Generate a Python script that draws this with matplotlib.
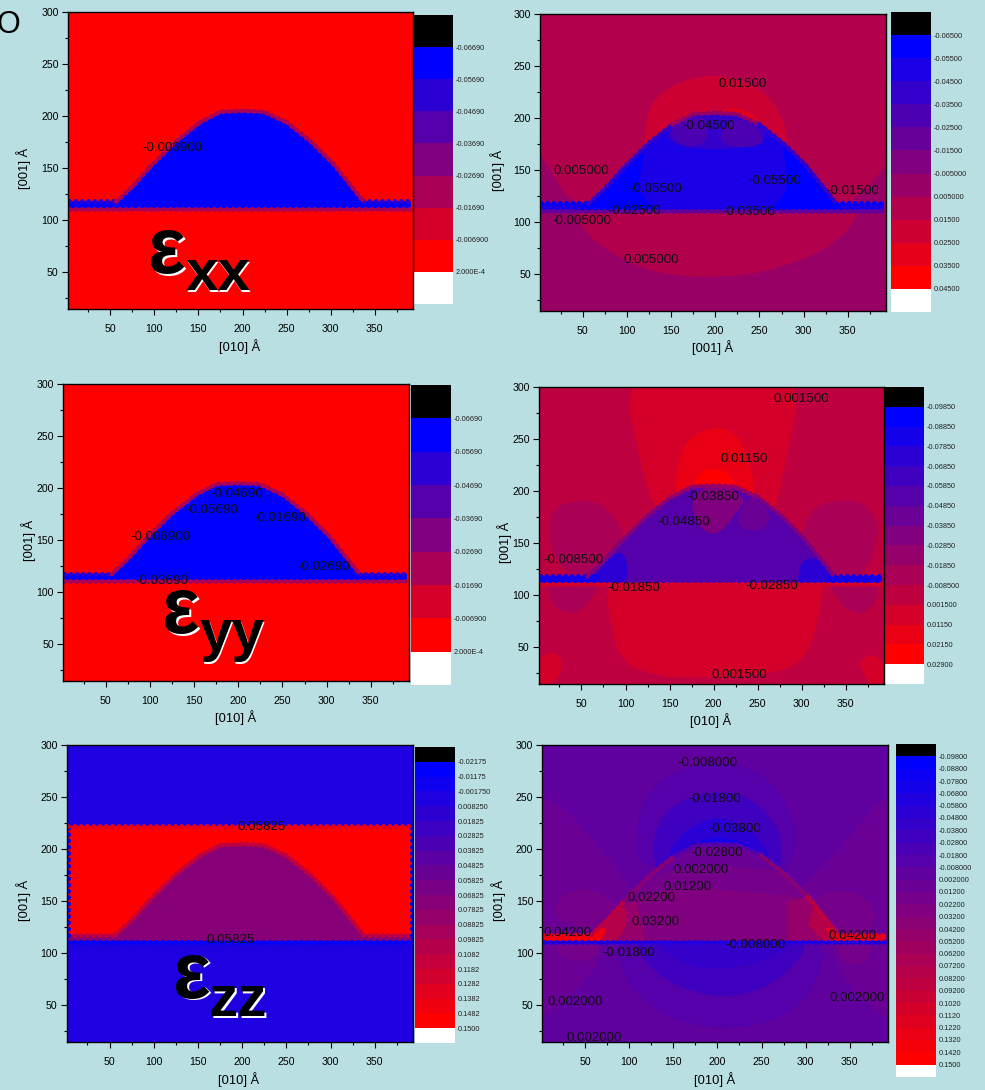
import numpy as np
import matplotlib
matplotlib.use("Agg")
import matplotlib.pyplot as plt
from matplotlib.colors import LinearSegmentedColormap, ListedColormap, to_hex
from matplotlib.patches import PathPatch
from matplotlib.path import Path
from matplotlib.ticker import MultipleLocator
from matplotlib.transforms import Affine2D

plt.rcParams['font.family'] = ['Liberation Sans', 'DejaVu Sans']
W, H = 985, 1090
BG = '#B9DFE2'

# ---- island outline (data coords, Angstrom)
ISLAND_X = [3, 3, 57, 75, 95, 125, 152, 175, 200, 224, 250, 278, 303, 320, 337, 391, 391]
ISLAND_Y = [111, 118, 118, 132, 151, 176, 194, 204, 205, 204, 194, 175, 154, 136, 118, 118, 111]

# ---- colour bar labels
CB_XX = ['-0.06690', '-0.05690', '-0.04690', '-0.03690', '-0.02690', '-0.01690', '-0.006900', '2.000E-4']
CB_XZ = ['-0.06500', '-0.05500', '-0.04500', '-0.03500', '-0.02500', '-0.01500', '-0.005000',
         '0.005000', '0.01500', '0.02500', '0.03500', '0.04500']
CB_YZ = ['-0.09850', '-0.08850', '-0.07850', '-0.06850', '-0.05850', '-0.04850', '-0.03850', '-0.02850',
         '-0.01850', '-0.008500', '0.001500', '0.01150', '0.02150', '0.02900']
CB_ZZ = ['-0.02175', '-0.01175', '-0.001750', '0.008250', '0.01825', '0.02825', '0.03825', '0.04825',
         '0.05825', '0.06825', '0.07825', '0.08825', '0.09825', '0.1082', '0.1182', '0.1282', '0.1382',
         '0.1482', '0.1500']
CB_R = ['-0.09800', '-0.08800', '-0.07800', '-0.06800', '-0.05800', '-0.04800', '-0.03800', '-0.02800',
        '-0.01800', '-0.008000', '0.002000', '0.01200', '0.02200', '0.03200', '0.04200', '0.05200',
        '0.06200', '0.07200', '0.08200', '0.09200', '0.1020', '0.1120', '0.1220', '0.1320', '0.1420', '0.1500']

# ---- contour labels (text, x, y)
L_XX = [('-0.006900', 121, 169)]
L_XZ = [('0.01500', 231, 233), ('-0.04500', 193, 192), ('0.005000', 48, 149), ('-0.05500', 133, 132),
        ('-0.05500', 267, 139), ('-0.01500', 356, 130), ('-0.02500', 109, 111), ('-0.03500', 238, 109.5),
        ('-0.005000', 48, 101), ('0.005000', 128, 64)]
L_YY = [('-0.04690', 198, 195), ('-0.05690', 170, 179), ('-0.01690', 247, 171), ('-0.006900', 112, 153),
        ('-0.02690', 297, 124), ('-0.03690', 113, 110.5)]
L_YZ = [('0.001500', 299, 288), ('0.01150', 235, 231), ('-0.03850', 199, 194), ('-0.04850', 166, 170.5),
        ('-0.008500', 41, 134), ('-0.01850', 109, 107), ('-0.02850', 266, 108.5), ('0.001500', 229.5, 23.5)]
L_ZZ = [('0.05825', 222, 221.5), ('0.05825', 187, 113)]
L_R = [('-0.008000', 189, 283), ('-0.01800', 197.5, 248), ('-0.03800', 220, 220), ('-0.02800', 199, 196),
       ('0.002000', 182, 180), ('0.01200', 166, 164), ('0.02200', 125, 153.5), ('0.03200', 129.5, 130.5),
       ('0.04200', 30, 120), ('0.04200', 353, 117), ('-0.008000', 243, 108), ('-0.01800', 100, 100),
       ('0.002000', 38.5, 53.5), ('0.002000', 358, 57), ('0.002000', 60, 19)]

# ---- contour regions: (level cell, xs, ys)
XZ_REGIONS = [
    (7, [-10, 404, 404, -10], [0, 0, 112, 112]),
    (7, [-10, -6, 6, 20, 35, 60, 70, -10], [105, 175, 160, 141, 121, 115, 105, 105]),
    (7, [404, 400, 387, 362, 343, 335, 325, 404], [105, 165, 147, 125, 115, 113, 105, 105]),
    (8, [40, 53, 77, 110, 146, 192, 241, 305, 340, 357, 365, 40],
        [115, 89, 73, 58, 49, 47, 49, 65, 83, 100, 118, 118]),
    (9, [120, 120, 128, 145, 165, 188, 215, 241, 262, 276, 281, 282, 200],
        [165, 192, 215, 228, 236, 241, 240, 233, 220, 200, 185, 165, 150]),
    (10, [150, 158, 180, 203, 222, 245, 262, 240, 170], [185, 200, 208, 205, 211, 203, 182, 170, 170]),
]
XZ_ISLAND = [
    (1, [40, 95, 125, 115, 112, 150, 40], [105, 165, 185, 150, 125, 105, 105]),
    (1, [350, 300, 270, 282, 280, 250, 350], [105, 170, 195, 150, 125, 105, 105]),
    (3, [143, 161, 191, 255, 260, 226, 176, 150], [187, 200, 206, 200, 180, 170, 170, 176]),
    (4, [148, 161, 191, 193, 176, 155], [187, 198, 203, 180, 171, 176]),
    (4, [205, 218, 237, 254, 254, 226, 208], [185, 198, 198, 185, 174, 171, 176]),
]
YZ_REGIONS = [
    (11, [91, 306, 278, 268, 200, 138, 122], [330, 330, 212, 175, 150, 175, 207]),
    (12, [155, 160, 176, 201, 226, 242, 249, 200], [190, 232, 254, 262, 256, 226, 190, 175]),
    (13, [172, 186, 201, 218, 228, 200], [200, 219, 222, 217, 200, 190]),
    (11, [75, 84, 92, 125, 182, 254, 294, 312, 322, 326, 200],
         [118, 72, 40, 23, 20, 23, 31, 53, 92, 118, 125]),
    (9, [13, 20, 45, 72, 95, 100, 76, 56, 30, 15], [167, 185, 191, 189, 168, 141, 131, 118, 122, 146]),
    (9, [303, 309, 334, 366, 386, 385, 374, 342, 324, 320, 300], [164, 181, 191, 191, 174, 150, 122, 115, 115, 135, 155]),
    (9, [10, 15, 37, 58, 74, 40], [118, 90, 80, 90, 118, 122]),
    (9, [328, 343, 364, 384, 388, 360], [118, 90, 80, 90, 118, 122]),
    (11, [-4, 11, 24, 30, 19, 3, -6], [36, 44, 44, 31, 16, 10, 10]),
    (11, [364, 383, 398, 398, 381, 370], [38, 44, 30, 10, 10, 25]),
]
YZ_ISLAND = [
    (7, [170, 188, 208, 226, 238, 205], [191, 159, 159, 180, 192, 212]),
    (6, [235, 225, 240, 262, 264, 245], [189, 170, 160, 165, 180, 195]),
    (3, [55, 72, 89, 102, 102, 55], [105, 127, 142, 138, 105, 105]),
    (3, [296, 302, 323, 340, 352, 296], [123, 135, 135, 117, 105, 105]),
    (2, [1, 70, 70, 1], [110, 110, 120, 120]),
    (2, [330, 394, 394, 330], [110, 110, 120, 120]),
]
ZZ_REGIONS = [
    (18, [3, 392, 392, 3], [117, 117, 222, 222]),
]
ZZ_ISLAND = []
R_REGIONS = [
    (11, [-20, 18, 56, 98, 115, 60, 72, 40, -20], [252, 248, 212, 168, 150, 110, 98, 62, 24]),
    (11, [414, 382, 341, 296, 280, 330, 332, 353, 414], [252, 248, 202, 164, 150, 110, 96, 62, 24]),
    (12, [14, 18, 41, 71, 88, 71], [132, 153, 163, 159, 141, 120]),
    (12, [12, 30, 60, 70, 40], [108, 91, 94, 108, 116]),
    (12, [307, 322, 353, 377, 379, 334], [151, 159, 161, 146, 122, 114]),
    (12, [332, 345, 364, 379, 350], [108, 88, 88, 108, 116]),
    (9, [107, 113, 130, 160, 200, 245, 272, 286, 291, 282, 269, 109],
        [210, 240, 263, 278, 285, 277, 254, 230, 210, 185, 165, 180]),
    (7, [126, 132, 150, 175, 200, 232, 255, 269, 273, 271, 132],
        [202, 225, 243, 252, 256, 252, 236, 220, 202, 172, 172]),
    (5, [143, 152, 172, 200, 230, 250, 260, 263, 147], [190, 208, 223, 232, 223, 208, 192, 178, 180]),
    (3, [150, 170, 200, 235, 253, 200], [192, 206, 212, 206, 187, 185]),
    (2, [160, 170, 175, 165], [195, 198, 192, 190]),
    (2, [232, 242, 248, 238], [196, 197, 190, 188]),
    (9, [80, 90, 118, 170, 231, 287, 315, 324, 200], [118, 84, 50, 30, 27, 43, 74, 118, 122]),
    (7, [98, 128, 178, 227, 276, 312, 200], [118, 80, 60, 58, 76, 118, 122]),
    (6, [118, 160, 216, 272, 290, 200], [118, 88, 84, 98, 118, 122]),
]
R_ISLAND = [
    (12, [50, 350, 312, 200, 115], [100, 100, 175, 186, 175]),
    (13, [50, 350, 305, 250, 170, 95], [100, 100, 155, 157, 165, 153]),
    (15, [50, 122, 108, 55], [100, 100, 150, 140]),
    (15, [280, 350, 305, 280], [100, 100, 155, 150]),
    (18, [50, 82, 98, 96, 72], [108, 108, 126, 150, 132]),
    (18, [303, 322, 345, 312], [128, 108, 108, 155]),
    (24, [1, 68, 74, 1], [112, 112, 124, 124]),
    (22, [330, 394, 394, 322], [112, 112, 124, 124]),
]
LEVEL_LINE_Y = [110.5, 110.5]
LEVEL_LINE_X = [3, 391]


def pad_px(px):
    return px * 72 / 100


def make_cells(n_labels):
    ramp = LinearSegmentedColormap.from_list('br', ['#0000ff', '#ff0000'], N=n_labels - 1)
    return ['#000000'] + [to_hex(ramp(i)) for i in range(n_labels - 1)] + ['#ffffff']


fig = plt.figure(figsize=(W / 100, H / 100), dpi=100, facecolor=BG)
PX = Affine2D().scale(1, -1).translate(0, H)


def px_axes(l, t, r, b):
    return fig.add_axes([l / W, 1 - b / H, (r - l) / W, (b - t) / H])


def colorbar(box, labels):
    cells = make_cells(len(labels))
    cax = px_axes(*box)
    n = len(cells)
    cax.pcolormesh([0, 1], np.arange(n + 1), np.arange(n)[:, None], cmap=ListedColormap(cells),
                   vmin=-0.5, vmax=n - 0.5)
    cax.set_ylim(n, 0)
    cax.set_xticks([])
    cax.set_yticks(np.arange(1, n), labels)
    cax.yaxis.tick_right()
    cax.tick_params(axis='y', length=0, pad=2, labelsize=5.3, labelcolor='#222222')
    for s in cax.spines.values():
        s.set_visible(False)
    return cells


def region_patch(ax, xs, ys, color, z):
    """Closed region; outlines with five or more read points get rounded corners."""
    pts = np.column_stack([xs, ys]).astype(float)
    if len(pts) < 5:
        p, = ax.fill(xs, ys, color=color, lw=0, zorder=z)
        return p
    mids = (pts + np.roll(pts, -1, axis=0)) / 2
    verts = [mids[-1]]
    codes = [Path.MOVETO]
    for pt, mid in zip(pts, mids):
        verts += [pt, mid]
        codes += [Path.CURVE3, Path.CURVE3]
    p = PathPatch(Path(verts, codes), fc=color, ec='none', lw=0, zorder=z)
    ax.add_patch(p)
    return p


def dotted(ax, xs, ys, color, lw=3.6, z=6, rim=True):
    """Bumpy contour edge: a thin solid rim plus round dots along it."""
    if rim:
        ax.plot(xs, ys, color=color, lw=2.2, zorder=z, solid_capstyle='butt')
    ax.plot(xs, ys, color=color, lw=lw, ls=(0, (0.01, 1.25)), dash_capstyle='round', zorder=z)


def panel(box, cbbox, cblabels, bg, regions, island_cell, zones, edges, labels,
          xlabel, xl_pos, yl_pos):
    cells = colorbar(cbbox, cblabels)
    ax = px_axes(*box)
    ax.set_facecolor(cells[bg])
    ax.set_xlim(1.5, 393)
    ax.set_ylim(14.5, 300)
    for c, xs, ys in regions:
        region_patch(ax, xs, ys, cells[c], 2)
    isl, = ax.fill(ISLAND_X, ISLAND_Y, color=cells[island_cell], lw=0, zorder=3)
    for c, xs, ys in zones:
        p = region_patch(ax, xs, ys, cells[c], 4)
        p.set_clip_path(isl)
    wing, low_slope, high_slope, top, base = edges
    dotted(ax, ISLAND_X[1:3], ISLAND_Y[1:3], cells[wing], rim=False)
    dotted(ax, ISLAND_X[-3:-1], ISLAND_Y[-3:-1], cells[wing], rim=False)
    dotted(ax, ISLAND_X[2:5], ISLAND_Y[2:5], cells[low_slope])
    dotted(ax, ISLAND_X[4:7], ISLAND_Y[4:7], cells[high_slope])
    dotted(ax, ISLAND_X[6:11], ISLAND_Y[6:11], cells[top])
    dotted(ax, ISLAND_X[10:13], ISLAND_Y[10:13], cells[high_slope])
    dotted(ax, ISLAND_X[12:15], ISLAND_Y[12:15], cells[low_slope])
    dotted(ax, LEVEL_LINE_X, LEVEL_LINE_Y, cells[base])
    for t, x, y in labels:
        ax.text(x, y, t, fontsize=9.6, color='#101010', ha='center', va='center', zorder=8)
    ax.xaxis.set_major_locator(MultipleLocator(50))
    ax.yaxis.set_major_locator(MultipleLocator(50))
    ax.xaxis.set_minor_locator(MultipleLocator(25))
    ax.yaxis.set_minor_locator(MultipleLocator(25))
    ax.tick_params(axis='x', which='major', length=pad_px(6), width=0.8, pad=pad_px(9), labelsize=7.6)
    ax.tick_params(axis='y', which='major', length=pad_px(6), width=0.8, pad=pad_px(3), labelsize=7.6)
    ax.tick_params(which='minor', length=pad_px(3), width=0.8)
    for s in ax.spines.values():
        s.set_linewidth(1.0)
        s.set_zorder(10)
    ax.set_xlabel(xlabel, fontsize=9.3, va='center')
    ax.set_ylabel('[001] Å', fontsize=9.3, va='center')
    ax.xaxis.set_label_coords(*xl_pos, transform=PX)
    ax.yaxis.set_label_coords(*yl_pos, transform=PX)
    return ax, cells


def strain_name(eps_x, sub_x, eps_base, sub_base, sub):
    for off, col, z in ((1.5, 'white', 20), (0, 'black', 21)):
        fig.text(eps_x + off, eps_base + off, 'ε', fontsize=57, fontweight='bold', color=col,
                 ha='center', va='baseline', transform=PX, zorder=z)
        fig.text(sub_x + off, sub_base + off, sub, fontsize=42, fontweight='bold', color=col,
                 ha='center', va='baseline', transform=PX, zorder=z)


panel((67.5, 12, 412.7, 309), (412.7, 15, 453, 304), CB_XX, 7, [], 1, [], (2, 5, 5, 5, 5), L_XX,
      '[010] Å', (240, 347), (24, 168))
panel((540, 14, 885.7, 311), (891, 12, 931, 312), CB_XZ, 8, XZ_REGIONS, 2, XZ_ISLAND, (1, 3, 3, 7, 5), L_XZ,
      '[001] Å', (712.7, 348), (498, 170))
panel((63, 384.3, 408.7, 681.3), (411, 385, 451, 685), CB_XX, 7, [], 1, [], (2, 5, 5, 5, 5), L_YY,
      '[010] Å', (236, 718), (29, 540))
panel((538.7, 386.7, 883.7, 684), (884, 387, 924, 684), CB_YZ, 10, YZ_REGIONS, 5, YZ_ISLAND, (2, 7, 7, 8, 11), L_YZ,
      '[010] Å', (711, 721), (505, 542))
ax5, cells5 = panel((66.7, 745.3, 412.7, 1042.3), (415, 747, 455, 1043), CB_ZZ, 3, ZZ_REGIONS, 10, ZZ_ISLAND,
                    (14, 14, 14, 14, 1), L_ZZ, '[010] Å', (239, 1080), (24, 900))
dotted(ax5, [3, 3], [118, 221], cells5[1], rim=False)
dotted(ax5, [392, 392], [118, 221], cells5[1], rim=False)
dotted(ax5, [3, 392], [222, 222], cells5[16], rim=False)
panel((542.3, 745.3, 887.7, 1042.3), (896, 744, 936, 1077), CB_R, 10, R_REGIONS, 11, R_ISLAND,
      (23, 19, 14, 9, 4), L_R, '[010] Å', (715, 1080), (499, 900))

strain_name(167, 218, 273, 290, 'xx')
strain_name(181, 232, 633, 650, 'yy')
strain_name(192, 238, 998, 1016, 'zz')

fig.text(8, 25, 'O', fontsize=22, color='black', ha='center', va='center', transform=PX)

fig.savefig('out.png', dpi=100, facecolor=BG)
